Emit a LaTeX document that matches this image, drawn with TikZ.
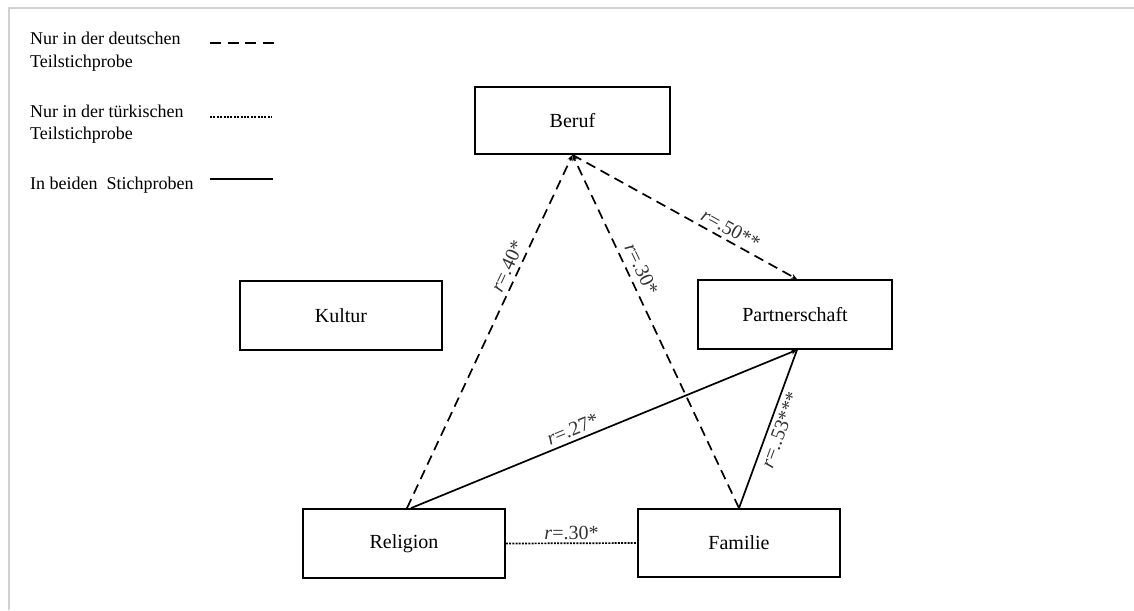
\documentclass[tikz,border=0pt]{standalone}
\usepackage{fontspec}
\setmainfont{Liberation Serif}
\usetikzlibrary{arrows.meta}
\begin{document}
\begin{tikzpicture}[x=1pt,y=-1pt,
  box/.style={draw, line width=1.8pt, minimum width=#1, minimum height=68pt, inner sep=0pt,
    font=\fontsize{20}{24}\selectfont},
  box/.default=200pt,
  legtext/.style={anchor=base west, inner sep=0pt, font=\fontsize{18}{22}\selectfont},
  lab/.style={font=\fontsize{20}{22}\selectfont, inner sep=4pt, text=black!80},
  dline/.style={line width=1.7pt, dash pattern=on 10pt off 6pt},
  oline/.style={line width=1.7pt, dash pattern=on 2pt off 1.2pt},
  sline/.style={line width=1.7pt},
  tip/.style={-{Stealth[length=6pt,width=5pt]}}
]
\useasboundingbox (0,0) rectangle (1134,610);
% frame
\draw[line width=2pt, color=black!18] (9,610) -- (9,8) -- (1134,8);

% legend
\node[legtext] (l1a) at (30,45) {Nur in der deutschen};
\node[legtext] (l1b) at (30,67) {Teilstichprobe};
\node[legtext] (l2a) at (30,117) {Nur in der türkischen};
\node[legtext] (l2b) at (30,139) {Teilstichprobe};
\node[legtext] (l3) at (30,189) {In beiden\ \ Stichproben};
\coordinate (d1) at (210,43); \coordinate (d2) at (274,43);
\coordinate (o1) at (210,117); \coordinate (o2) at (272,117);
\coordinate (s1) at (210,179); \coordinate (s2) at (273,179);
\draw[line width=1.8pt, dash pattern=on 11pt off 6.5pt] (d1) -- (d2);
\draw[line width=1.5pt, dash pattern=on 2pt off 1.4pt] (o1) -- (o2);
\draw[sline] (s1) -- (s2);

% boxes
\node[box=195pt, minimum height=67pt] (Beruf) at (572.5,120.5) {Beruf};
\node[box=202pt, minimum height=69pt] (Kultur) at (341,315.5) {Kultur};
\node[box=194pt, minimum height=69pt] (Partner) at (795,314.5) {Partnerschaft};
\node[box=202pt, minimum height=69pt] (Religion) at (404,543.5) {Religion};
\node[box=202pt, minimum height=68pt] (Familie) at (739,543) {Familie};

% connectors
\draw[dline, tip] ([xshift=3pt]Religion.north) -- node[lab, sloped, above, pos=0.67] {\textit{r}=.40*} (Beruf.south);
\draw[dline, tip] (Familie.north) -- node[lab, sloped, above, pos=0.66, inner sep=6pt] {\textit{r}=.30*} (Beruf.south);
\draw[dline, tip] (Beruf.south) -- node[lab, sloped, above, pos=0.68] {\textit{r}=.50**} ([xshift=2pt]Partner.north);
\draw[sline, tip] ([xshift=7pt]Religion.north) -- node[lab, sloped, above, pos=0.43] {\textit{r}=.27*} ([xshift=2pt]Partner.south);
\draw[sline] (Familie.north) -- node[lab, sloped, below, pos=0.52] {\textit{r}=..53***} ([xshift=2pt]Partner.south);
\draw[oline] (Religion.east) -- node[lab, above, inner sep=3pt] {\textit{r}=.30*} (Familie.east -| Familie.west);
\end{tikzpicture}
\end{document}
